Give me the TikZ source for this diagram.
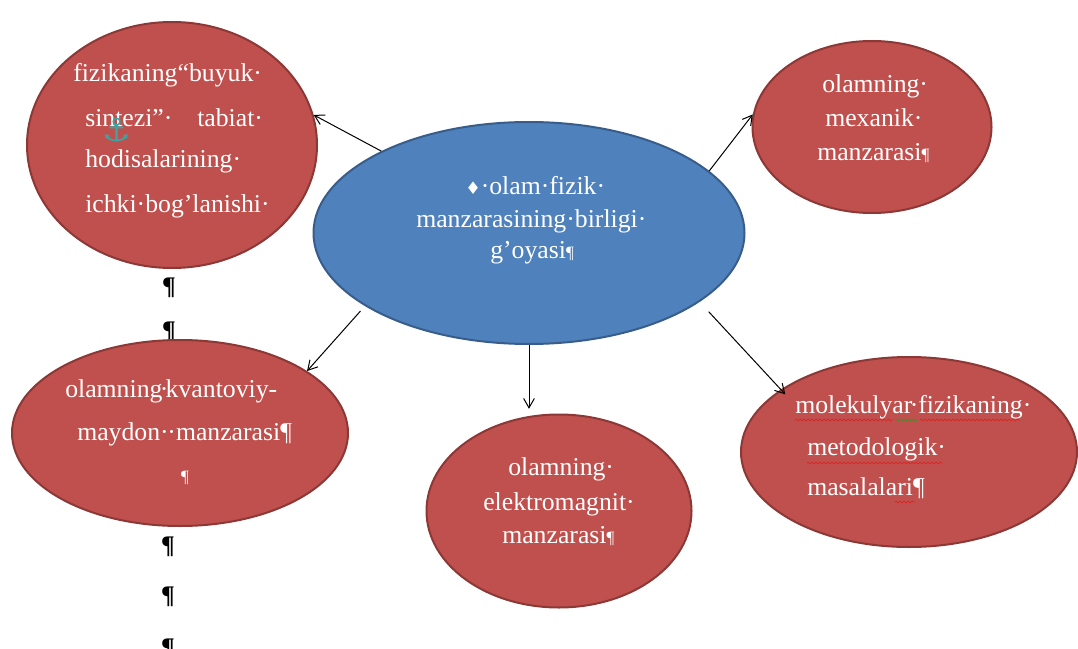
\documentclass[tikz,border=0pt]{standalone}
\usepackage{fontspec}
\setmainfont{Liberation Serif}
\newfontfamily\symfont{DejaVu Sans}
\usetikzlibrary{arrows.meta,shapes.geometric,decorations.pathmorphing}
\definecolor{redfill}{HTML}{C0504D}
\definecolor{redline}{HTML}{8C3836}
\definecolor{bluefill}{HTML}{4F81BD}
\definecolor{blueline}{HTML}{385D8A}
\definecolor{anchorcol}{HTML}{3AA5A5}
\definecolor{spellred}{HTML}{E02020}
\definecolor{spellgreen}{HTML}{20A020}
\begin{document}
\begin{tikzpicture}[x=0.75pt,y=-0.75pt,
 redell/.style={ellipse, fill=redfill, draw=redline, line width=1.5pt, inner sep=0pt},
 blueell/.style={ellipse, fill=bluefill, draw=blueline, line width=1.5pt, inner sep=0pt},
 lbl/.style={anchor=base west, text=white, font=\fontsize{19.3}{23}\selectfont, inner sep=0pt},
 pil/.style={anchor=base, font=\fontsize{19}{23}\selectfont\bfseries, inner sep=0pt},
 conn/.style={-{Straight Barb[length=7pt,width=8pt]}, line width=0.75pt, black},
 spell/.style={decorate, decoration={snake, amplitude=0.7pt, segment length=3pt}, line width=0.5pt}]
\useasboundingbox (0,0) rectangle (1078,649);
\fill[white] (0,0) rectangle (1078,649);

% stray paragraph marks
\node[pil] (p1) at (169,294) {¶};
\node[pil] (p2) at (169,338) {¶};
\node[pil] (p3) at (168,553) {¶};
\node[pil] (p4) at (168,603) {¶};
\node[pil] (p5) at (168,655) {¶};

% ellipses
\node[redell, minimum width=217.5pt, minimum height=184.5pt] (tl) at (172,145) {};
\node[blueell, minimum width=323.25pt, minimum height=166.5pt] (blue) at (529,233) {};
\node[redell, minimum width=179.25pt, minimum height=129pt] (tr) at (872,127) {};
\node[redell, minimum width=252pt, minimum height=139.5pt] (bl) at (180,433) {};
\node[redell, minimum width=198.75pt, minimum height=144.75pt] (bc) at (559,511) {};
\node[redell, minimum width=252pt, minimum height=142.5pt] (br) at (909,452) {};

% connectors
\draw[conn] (blue.151.6) -- (tl.12.5);
\draw[conn] (blue.19.1) -- (tr.174);
\draw[conn, shorten <=5pt] (blue.204.2) -- (bl.26);
\draw[conn, shorten >=3.5pt] (blue.south) -- (blue.south |- bc.north);
\draw[conn, shorten <=10pt, shorten >=-5pt] (blue.-22.3) -- (br.154);

% top-left texts
\node[lbl] (t1a) at (73,82) {fizikaning“buyuk·};
\node[lbl] (t1b) at (85,127) {sintezi”·};
\node[lbl] (t1c) at (197,127) {tabiat·};
\node[lbl] (t1d) at (85,168) {hodisalarining·};
\node[lbl] (t1e) at (85,213) {ichki·bog’lanishi·};
\node[text=anchorcol, font=\symfont\fontsize{24}{24}\selectfont, inner sep=0pt] (anc) at (117,130) {⚓};

% centre texts
\node[lbl] (c1) at (465,195) {{\symfont\fontsize{13}{13}\selectfont ♦}·olam·fizik·};
\node[lbl] (c2) at (416,228) {manzarasining·birligi·};
\node[lbl] (c3) at (490,258) {g’oyasi{\fontsize{13}{13}\selectfont ¶}};

% top-right texts
\node[lbl] (r1) at (822,93) {olamning·};
\node[lbl] (r2) at (825,127) {mexanik·};
\node[lbl] (r3) at (817,161) {manzarasi{\fontsize{13}{13}\selectfont ¶}};

% bottom-left texts
\node[lbl] (b1) at (65,397) {olamning\kern-2pt·\kern-2pt kvantoviy-};
\node[lbl] (b2) at (77,440) {maydon·\kern-1pt·manzarasi¶};
\node[lbl, anchor=base] (b3) at (185,482) {\fontsize{13}{13}\selectfont ¶};

% bottom-centre texts
\node[lbl] (e1) at (508,475) {olamning·};
\node[lbl] (e2) at (483,510) {elektromagnit·};
\node[lbl] (e3) at (502,543) {manzarasi{\fontsize{13}{13}\selectfont ¶}};

% bottom-right texts
\node[lbl] (m1) at (795,413) {molekulyar\kern-2pt·fizikaning·};
\node[lbl] (m2) at (807,455) {metodologik·};
\node[lbl] (m3) at (807,495) {masalalari¶};

% spelling marks
\draw[spell, spellred] (795,420) -- (893,420);
\draw[spell, spellgreen] (895,420) -- (917,420);
\draw[spell, spellred] (920,420) -- (1020,420);
\draw[spell, spellred] (807,463) -- (942,463);
\draw[spell, spellred] (895,502) -- (915,502);
\end{tikzpicture}
\end{document}
